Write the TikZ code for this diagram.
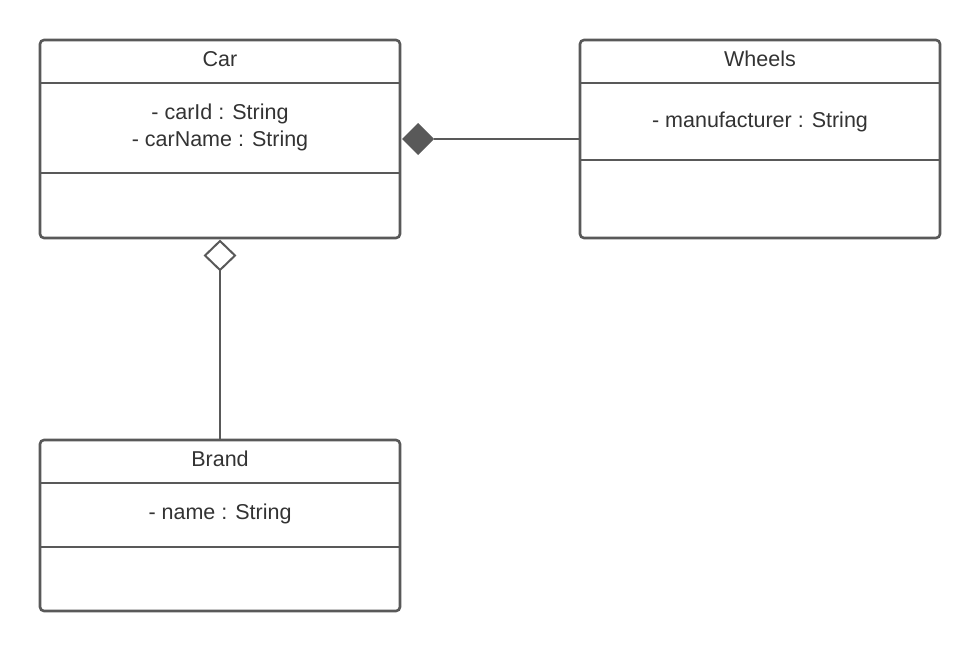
\documentclass[tikz,border=0pt]{standalone}
\usepackage{fontspec}
\setmainfont{Liberation Sans}
\usetikzlibrary{shapes.geometric}
\definecolor{lc}{HTML}{595959}
\definecolor{tc}{HTML}{333333}
\begin{document}
\begin{tikzpicture}[x=1pt,y=-1pt,
  umlbox/.style={draw=lc, line width=2.6pt, rounded corners=4pt, minimum width=360pt, anchor=north west, inner sep=0pt, outer sep=0pt, fill=white},
  divider/.style={draw=lc, line width=2.6pt},
  conn/.style={draw=lc, line width=2pt},
  label/.style={text=tc, font=\fontsize{21.5pt}{27pt}\selectfont, align=center, inner sep=0pt},
  filldiam/.style={diamond, fill=lc, draw=none, minimum width=32pt, minimum height=32pt, inner sep=0pt, outer sep=0pt},
  hollowdiam/.style={diamond, fill=white, draw=lc, line width=2pt, minimum width=30pt, minimum height=29pt, inner sep=0pt, outer sep=0pt}]
\useasboundingbox (0,0) rectangle (980,651);
% Car
\node[umlbox, minimum height=198pt] (car) at (40,40) {};
\coordinate (car1l) at (40,83); \coordinate (car1r) at (400,83);
\coordinate (car2l) at (40,173); \coordinate (car2r) at (400,173);
\draw[divider] (car1l) -- (car1r);
\draw[divider] (car2l) -- (car2r);
\node[label] (cartitle) at (220,59) {Car};
\node[label] (carattr) at (220,127) {- carId : String\\- carName : String};
% Wheels
\node[umlbox, minimum height=198pt] (wheels) at (580,40) {};
\coordinate (wh1l) at (580,83); \coordinate (wh1r) at (940,83);
\coordinate (wh2l) at (580,160); \coordinate (wh2r) at (940,160);
\draw[divider] (wh1l) -- (wh1r);
\draw[divider] (wh2l) -- (wh2r);
\node[label] (whtitle) at (760,59) {Wheels};
\node[label] (whattr) at (760,121.5) {- manufacturer : String};
% Brand
\node[umlbox, minimum height=171pt] (brand) at (40,440) {};
\coordinate (br1l) at (40,483); \coordinate (br1r) at (400,483);
\coordinate (br2l) at (40,547); \coordinate (br2r) at (400,547);
\draw[divider] (br1l) -- (br1r);
\draw[divider] (br2l) -- (br2r);
\node[label] (brtitle) at (220,459) {Brand};
\node[label] (brattr) at (220,514) {- name : String};
% Composition
\node[filldiam] (cd) at (418,139) {};
\draw[conn] (cd.east) -- (wheels.west |- cd.east);
% Aggregation
\node[hollowdiam] (ad) at (220,255.5) {};
\draw[conn] (ad.south) -- (brand.north);
\end{tikzpicture}
\end{document}
